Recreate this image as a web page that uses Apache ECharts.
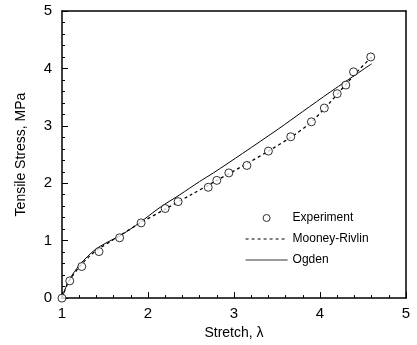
<!DOCTYPE html>
<html>
<head>
<meta charset="utf-8">
<script src="https://cdn.jsdelivr.net/npm/echarts@6/dist/echarts.min.js"></script>
<style>html,body{margin:0;padding:0;background:#fff}#c{width:417px;height:345px}</style>
</head>
<body>
<div id="c"></div>
<script>
const expStretch = [1.00, 1.09, 1.23, 1.43, 1.67, 1.92, 2.20, 2.35, 2.70, 2.80, 2.94, 3.15, 3.40, 3.66, 3.90, 4.05, 4.20, 4.30, 4.39, 4.59];
const expStress  = [0.00, 0.30, 0.55, 0.81, 1.05, 1.31, 1.56, 1.68, 1.93, 2.05, 2.18, 2.31, 2.56, 2.81, 3.07, 3.31, 3.56, 3.71, 3.94, 4.20];

const mrStretch = [1.00, 1.05, 1.10, 1.20, 1.30, 1.40, 1.60, 1.90, 2.20, 2.50, 2.80, 3.10, 3.40, 3.70, 3.90, 4.10, 4.30, 4.45, 4.60];
const mrStress  = [0.00, 0.20, 0.34, 0.54, 0.70, 0.83, 1.02, 1.30, 1.55, 1.80, 2.05, 2.30, 2.56, 2.84, 3.07, 3.38, 3.72, 3.97, 4.20];

const ogStretch = [1.00, 1.05, 1.10, 1.20, 1.30, 1.40, 1.50, 1.70, 1.90, 2.14, 2.37, 2.60, 2.76, 3.10, 3.52, 3.80, 4.12, 4.60];
const ogStress  = [0.00, 0.21, 0.36, 0.57, 0.73, 0.86, 0.95, 1.11, 1.31, 1.58, 1.80, 2.03, 2.18, 2.52, 2.95, 3.25, 3.59, 4.08];

const xTicks = [1, 2, 3, 4, 5];
const yTicks = [0, 1, 2, 3, 4, 5];

const zip = (a, b) => a.map((v, i) => [v, b[i]]);
const FONT = 'Liberation Sans, Arial, sans-serif';

const chart = echarts.init(document.getElementById('c'), null, {renderer: 'canvas'});
const axisCommon = {
  axisLine: {show: true, onZero: false, lineStyle: {color: '#000', width: 1.5}},
  axisTick: {show: true, inside: true, length: 6, lineStyle: {color: '#000', width: 1}},
  minorTick: {show: true, splitNumber: 5, length: 3, lineStyle: {color: '#000', width: 1}},
  splitLine: {show: false},
  axisLabel: {color: '#000', fontSize: 15, fontFamily: FONT},
  nameTextStyle: {color: '#000', fontSize: 14, fontFamily: FONT}
};
chart.setOption({
  animation: false,
  backgroundColor: '#fff',
  grid: {left: 62, right: 11, top: 11, bottom: 43, show: false},
  legend: {
    orient: 'vertical', left: 240, top: 207, itemWidth: 42, itemHeight: 7, itemGap: 9,
    textStyle: {color: '#000', fontSize: 12, fontFamily: FONT},
    data: [
      {name: 'Experiment', itemStyle: {borderWidth: 1, color: '#fff', borderColor: '#000'}},
      {name: 'Mooney-Rivlin', itemStyle: {opacity: 0}, lineStyle: {width: 1.2}},
      {name: 'Ogden', itemStyle: {opacity: 0}, lineStyle: {width: 0.8}}
    ]
  },
  xAxis: [
    Object.assign({}, axisCommon, {
      type: 'value', min: xTicks[0], max: xTicks[xTicks.length - 1], interval: 1,
      name: 'Stretch, λ', nameLocation: 'middle', nameGap: 23,
      axisLabel: Object.assign({}, axisCommon.axisLabel, {margin: 8})
    }),
    {type: 'value', position: 'top', min: 1, max: 5, interval: 1,
     axisLine: {show: true, onZero: false, lineStyle: {color: '#000', width: 1.5}},
     axisTick: {show: false}, axisLabel: {show: false}, splitLine: {show: false}}
  ],
  yAxis: [
    Object.assign({}, axisCommon, {
      type: 'value', min: yTicks[0], max: yTicks[yTicks.length - 1], interval: 1,
      name: 'Tensile Stress, MPa', nameLocation: 'middle', nameGap: 34,
      axisLabel: Object.assign({}, axisCommon.axisLabel, {margin: 10})
    }),
    {type: 'value', position: 'right', min: 0, max: 5, interval: 1,
     axisLine: {show: true, onZero: false, lineStyle: {color: '#000', width: 1.5}},
     axisTick: {show: false}, axisLabel: {show: false}, splitLine: {show: false}}
  ],
  series: [
    {
      name: 'Experiment', type: 'scatter', data: zip(expStretch, expStress),
      symbol: 'circle', symbolSize: 8, z: 5,
      itemStyle: {color: '#fff', borderColor: '#000', borderWidth: 1}
    },
    {
      name: 'Mooney-Rivlin', type: 'line', data: zip(mrStretch, mrStress),
      smooth: 0.3, showSymbol: false, symbol: 'none', z: 3,
      lineStyle: {color: '#000', width: 1.3, type: [3, 3]},
      itemStyle: {color: '#000'}
    },
    {
      name: 'Ogden', type: 'line', data: zip(ogStretch, ogStress),
      smooth: 0.3, showSymbol: false, symbol: 'none', z: 3,
      lineStyle: {color: '#000', width: 1},
      itemStyle: {color: '#000'}
    }
  ]
});
</script>
</body>
</html>
